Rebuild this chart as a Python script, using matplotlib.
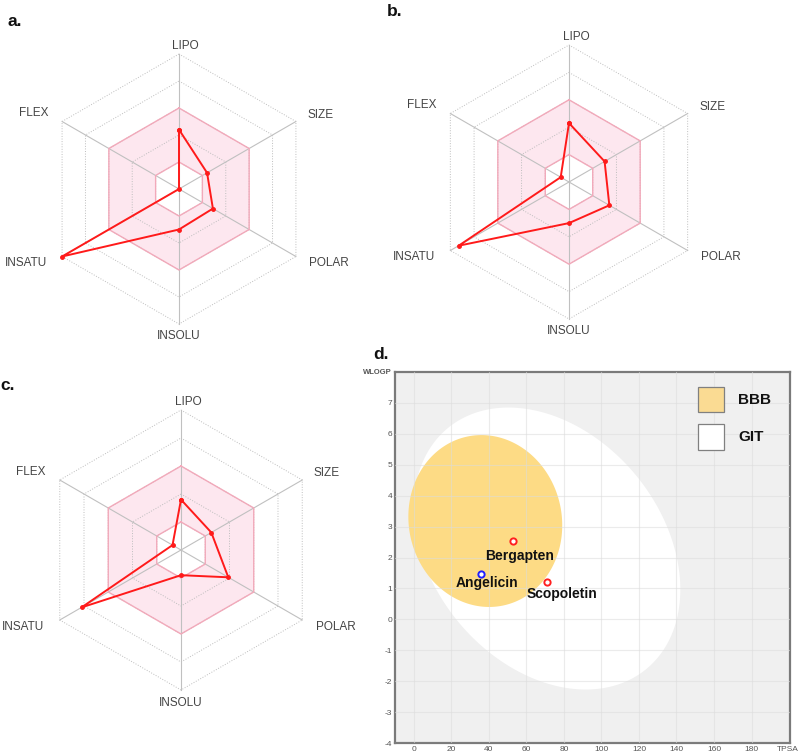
import numpy as np
import matplotlib
matplotlib.use('Agg')
import matplotlib.pyplot as plt
from matplotlib.patches import Rectangle

plt.rcParams['font.family'] = ['Liberation Sans', 'DejaVu Sans']
plt.rcParams['axes.unicode_minus'] = False

# bioavailability radar values (0 = centre, 1 = outer ring)
radar_axes = ['LIPO', 'SIZE', 'POLAR', 'INSOLU', 'INSATU', 'FLEX']
radar_a = [0.44, 0.24, 0.29, 0.30, 1.00, 0.00]
radar_b = [0.43, 0.30, 0.34, 0.30, 0.93, 0.07]
radar_c = [0.36, 0.25, 0.39, 0.18, 0.82, 0.07]
ring_levels = [0.2, 0.4, 0.6, 0.8, 1.0]
optimal_range = [0.2, 0.6]

# BOILED-Egg
compounds = ['Bergapten', 'Angelicin', 'Scopoletin']
tpsa = [52.7, 35.8, 70.8]
wlogp = [2.54, 1.48, 1.21]
point_colors = ['#ff2020', '#2020ff', '#ff2020']
label_offsets = [(5, -11), (4, -7), (11, -9)]

git_center = (71.05, 2.29)
git_half = (71.0, 4.56)
git_tilt = -0.29
bbb_center = (38.12, 3.18)
bbb_half = (41.0, 2.78)
bbb_tilt = -0.05

x_ticks = list(range(0, 181, 20))
y_ticks = list(range(-4, 8))

W, H = 800, 755
angles = np.deg2rad([90, 30, -30, -90, -150, 150])

# label placement around the hexagon (x, y, ha) in units of radius
label_pos = {
    'LIPO': (0.05, 1.06, 'center'),
    'SIZE': (0.95, 0.55, 'left'),
    'POLAR': (0.965, -0.55, 'left'),
    'INSOLU': (0.0, -1.09, 'center'),
    'INSATU': (-0.98, -0.55, 'right'),
    'FLEX': (-0.97, 0.56, 'right'),
}


def hexagon(r):
    a = np.append(angles, angles[0])
    return r * np.cos(a), r * np.sin(a)


def radar(fig, cx, cy, R, values):
    s = 1.45
    ax = fig.add_axes([(cx - s * R) / W, (H - cy - s * R) / H,
                       2 * s * R / W, 2 * s * R / H])
    ax.set_xlim(-s, s)
    ax.set_ylim(-s, s)
    ax.set_aspect('equal')
    ax.axis('off')

    xo, yo = hexagon(optimal_range[1])
    xi, yi = hexagon(optimal_range[0])
    ax.fill(xo, yo, color='#fde7ef', lw=0, zorder=1)
    ax.fill(xi, yi, color='white', lw=0, zorder=1)

    for r in ring_levels:
        x, y = hexagon(r)
        ax.plot(x, y, color='#bdbdbd', lw=0.7, ls=':', zorder=2)
    for a in angles:
        ax.plot([0, np.cos(a)], [0, np.sin(a)], color='#c0c0c0', lw=0.8, zorder=2)
    ax.plot(xo, yo, color='#f2a9ba', lw=1.0, zorder=3)
    ax.plot(xi, yi, color='#f2a9ba', lw=1.0, zorder=3)

    v = np.append(values, values[0])
    a = np.append(angles, angles[0])
    ax.plot(v * np.cos(a), v * np.sin(a), color='#ff1a1a', lw=1.4,
            marker='o', ms=2.5, zorder=4)

    for name in radar_axes:
        lx, ly, ha = label_pos[name]
        ax.text(lx, ly, name, ha=ha, va='center', fontsize=8.5, color='#444444')
    return ax


def egg(center, half, tilt):
    t = np.linspace(0, 2 * np.pi, 400)
    x = center[0] + half[0] * np.cos(t)
    y = center[1] + half[1] * (tilt * np.cos(t) + np.sqrt(1 - tilt ** 2) * np.sin(t))
    return x, y


fig = plt.figure(figsize=(W / 100, H / 100), dpi=100)

radar(fig, 179, 189, 135, radar_a)
radar(fig, 569, 182, 137, radar_b)
radar(fig, 181, 550, 140, radar_c)

# panel d
ax = fig.add_axes([395 / W, 12 / H, 395 / W, 371 / H])
ax.set_facecolor('#f0f0f0')
ax.fill(*egg(git_center, git_half, git_tilt), color='white', lw=0, zorder=1)
ax.fill(*egg(bbb_center, bbb_half, bbb_tilt), color='#fddb85', lw=0, zorder=1.5)
ax.set_xlim(-10, 200.5)
ax.set_ylim(-4, 8)
ax.set_xticks(x_ticks)
ax.set_yticks(y_ticks)
ax.set_axisbelow(False)
ax.grid(True, color='#dcdcdc', lw=0.8, alpha=0.55)
ax.tick_params(length=0, labelsize=6, labelcolor='#555555', pad=2)
for sp in ax.spines.values():
    sp.set_color('#7a7a7a')
    sp.set_linewidth(1.6)

for name, x, y, c, off in zip(compounds, tpsa, wlogp, point_colors, label_offsets):
    ax.plot(x, y, 'o', mfc='white', mec=c, ms=4.5, mew=1.4, zorder=5)
    ax.annotate(name, (x, y), xytext=off, textcoords='offset points',
                ha='center', va='center', fontsize=10, fontweight='bold',
                color='#111111', zorder=6)

ax.text(-0.008, 1.0, 'WLOGP', transform=ax.transAxes, ha='right', va='center',
        fontsize=5.5, color='#555555', fontweight='bold')
ax.text(0.995, -0.008, 'TPSA', transform=ax.transAxes, ha='center', va='top',
        fontsize=6, color='#555555')

# legend boxes
ax.add_patch(Rectangle((0.768, 0.891), 0.066, 0.069, transform=ax.transAxes,
                       fc='#fadb93', ec='#808080', lw=0.9, zorder=6))
ax.add_patch(Rectangle((0.768, 0.789), 0.066, 0.070, transform=ax.transAxes,
                       fc='white', ec='#808080', lw=0.9, zorder=6))
ax.text(0.869, 0.925, 'BBB', transform=ax.transAxes, ha='left', va='center',
        fontsize=11, fontweight='bold', color='#111111')
ax.text(0.869, 0.825, 'GIT', transform=ax.transAxes, ha='left', va='center',
        fontsize=11, fontweight='bold', color='#111111')

# panel letters
for letter, px, py in [('a.', 7, 21), ('b.', 387, 12), ('c.', 0, 385), ('d.', 373, 355)]:
    fig.text(px / W, 1 - py / H, letter, ha='left', va='center',
             fontsize=12.5, fontweight='bold', color='#111111')

fig.savefig('out.png', dpi=100)
